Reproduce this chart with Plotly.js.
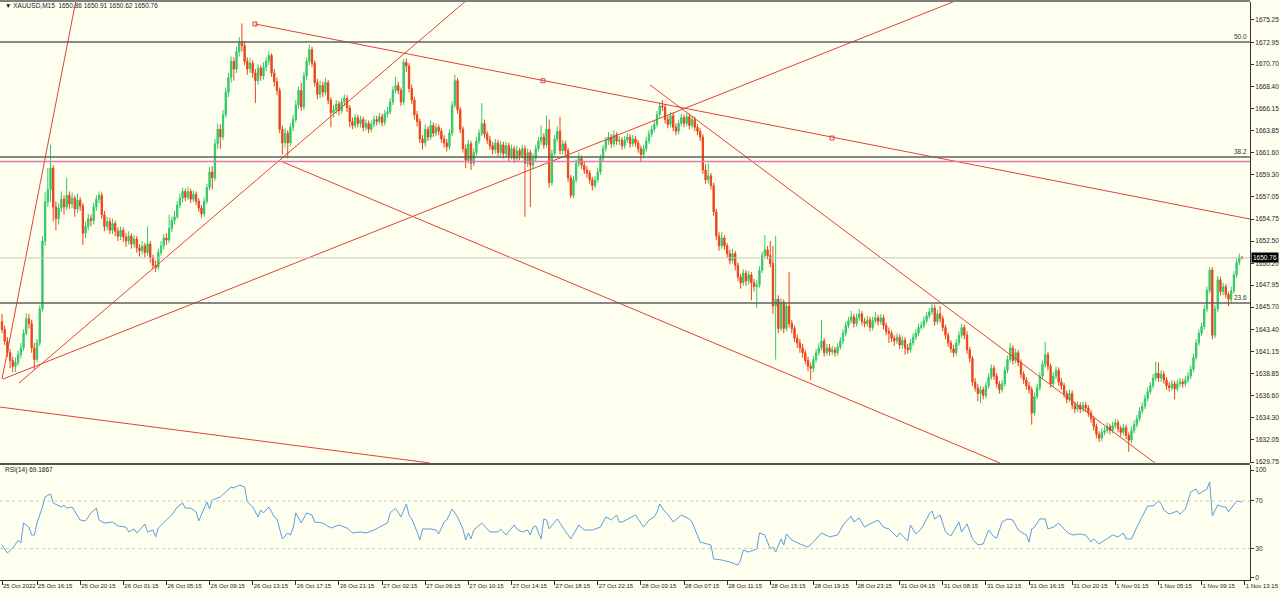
<!DOCTYPE html>
<html><head><meta charset="utf-8">
<script src="https://cdn.plot.ly/plotly-3.0.1.min.js"></script>
<style>html,body{margin:0;padding:0;background:#fffff0;}#chart{width:1280px;height:599px;}</style>
</head><body><div id="chart"></div>
<script>
// ---- XAUUSD M15 candles (bar index 0..460) ----
const opens = [
1644.2,1643.4,1642.2,1641.0,1640.2,1639.6,1640.0,1640.8,1641.5,1643.0,
1644.5,1644.0,1641.5,1640.3,1642.0,1645.5,1652.5,1656.5,1657.8,1660.0,
1656.0,1654.8,1655.9,1656.8,1656.0,1657.2,1656.3,1656.9,1655.8,1656.7,
1656.1,1653.3,1654.0,1654.8,1654.6,1656.0,1656.8,1657.2,1655.2,1654.0,
1654.5,1653.6,1654.3,1653.5,1653.0,1653.6,1652.9,1652.5,1653.0,1652.2,
1652.7,1651.8,1651.5,1652.0,1651.3,1652.2,1650.8,1650.0,1649.8,1651.3,
1652.0,1652.8,1652.6,1653.8,1654.6,1655.0,1656.2,1656.9,1657.6,1657.0,
1657.6,1656.8,1657.3,1656.6,1655.9,1655.3,1656.6,1658.0,1659.6,1659.0,
1662.5,1664.0,1663.2,1665.5,1667.8,1669.3,1671.0,1670.2,1672.0,1673.0,
1672.6,1671.0,1670.2,1670.8,1669.8,1669.0,1670.3,1669.5,1670.4,1671.0,
1671.6,1669.8,1668.9,1668.0,1664.0,1662.6,1663.6,1662.6,1664.2,1665.0,
1666.5,1668.0,1666.3,1669.5,1671.0,1672.2,1670.8,1668.8,1667.6,1668.5,
1667.8,1668.8,1667.0,1665.7,1666.0,1666.6,1665.9,1666.8,1667.2,1666.2,
1664.8,1664.4,1665.2,1664.6,1665.0,1664.2,1664.6,1664.0,1664.5,1665.0,
1664.8,1665.3,1664.7,1665.6,1665.8,1666.8,1668.0,1668.5,1668.0,1666.8,
1670.9,1670.5,1668.2,1667.0,1665.5,1664.8,1663.0,1662.6,1664.0,1663.2,
1664.4,1663.6,1664.2,1663.8,1663.0,1662.6,1662.2,1663.6,1666.5,1669.0,
1666.0,1664.0,1662.0,1660.8,1662.5,1660.5,1661.6,1662.8,1663.6,1664.6,
1663.5,1662.9,1662.3,1661.9,1662.6,1661.6,1662.4,1661.5,1662.3,1661.2,
1662.0,1661.0,1661.8,1661.3,1662.0,1660.5,1661.6,1660.3,1661.0,1662.0,
1662.8,1663.2,1662.4,1664.0,1658.5,1661.5,1663.0,1663.8,1661.8,1662.5,
1661.8,1659.0,1657.2,1658.8,1660.5,1661.0,1660.3,1659.8,1659.5,1658.8,
1658.2,1658.8,1659.6,1661.0,1662.0,1662.8,1663.2,1662.5,1663.4,1662.8,
1662.9,1662.3,1662.9,1663.2,1662.5,1663.0,1662.6,1662.0,1661.4,1662.0,
1662.8,1663.5,1664.0,1664.5,1665.5,1666.4,1666.3,1665.0,1664.5,1665.4,
1664.2,1663.8,1664.6,1665.2,1664.6,1665.3,1664.4,1665.0,1664.2,1663.8,
1663.2,1659.8,1658.8,1659.2,1658.2,1655.5,1653.0,1652.0,1652.8,1652.0,
1651.2,1650.5,1651.2,1650.0,1648.8,1648.2,1649.2,1648.4,1649.0,1648.2,
1647.8,1648.0,1649.5,1651.0,1651.6,1651.0,1650.2,1645.8,1646.5,1643.5,
1646.2,1643.5,1645.8,1644.0,1643.5,1642.5,1642.0,1641.5,1641.0,1640.2,
1639.6,1639.4,1640.3,1641.0,1641.5,1642.2,1641.0,1641.5,1641.1,1641.3,
1641.0,1641.6,1642.2,1643.0,1643.8,1644.3,1644.7,1644.0,1644.6,1645.0,
1644.2,1644.0,1644.4,1643.6,1644.3,1644.6,1644.2,1644.6,1643.8,1643.2,
1643.0,1642.5,1642.2,1642.6,1641.8,1642.3,1641.5,1641.3,1642.0,1642.6,
1643.0,1643.6,1643.8,1644.3,1644.8,1645.2,1645.6,1644.2,1645.0,1644.5,
1643.6,1642.8,1642.0,1641.4,1641.0,1642.0,1642.8,1643.6,1642.8,1641.3,
1640.4,1638.0,1637.4,1636.8,1637.2,1636.6,1637.6,1638.5,1639.4,1638.6,
1637.8,1637.2,1637.8,1639.2,1640.3,1641.5,1640.2,1641.0,1640.0,1638.8,
1638.2,1637.6,1637.2,1634.8,1636.5,1637.4,1638.6,1639.8,1640.8,1639.6,
1637.8,1638.6,1639.2,1638.0,1637.6,1636.8,1636.2,1636.8,1635.6,1635.2,
1635.6,1635.2,1635.6,1635.3,1634.8,1634.2,1633.4,1632.6,1632.2,1632.8,
1633.0,1633.4,1633.0,1633.5,1633.8,1633.2,1632.8,1633.3,1632.5,1632.0,
1633.0,1633.6,1634.2,1635.0,1635.5,1636.3,1637.0,1637.6,1638.4,1638.9,
1638.4,1638.8,1638.2,1637.6,1637.4,1637.8,1637.3,1637.8,1638.0,1637.8,
1638.2,1638.6,1639.3,1640.5,1642.0,1643.0,1643.7,1645.5,1647.4,1649.5,
1642.8,1645.5,1648.5,1647.3,1647.8,1647.0,1646.5,1647.4,1649.0,1650.3,
1650.86];
const highs = [
1645.0,1643.8,1642.6,1641.4,1640.6,1640.5,1641.2,1642.0,1643.4,1645.1,
1645.0,1644.4,1642.0,1642.4,1645.9,1653.0,1657.5,1660.0,1662.4,1660.3,
1656.6,1656.4,1657.6,1657.2,1659.0,1657.6,1657.5,1657.2,1657.4,1657.0,
1656.4,1654.5,1655.3,1655.2,1656.4,1657.2,1657.6,1657.5,1655.6,1655.0,
1654.9,1654.8,1654.6,1653.9,1654.0,1653.9,1653.3,1653.5,1653.3,1653.1,
1653.0,1652.2,1652.5,1652.3,1654.0,1652.5,1651.1,1650.5,1651.7,1652.5,
1653.2,1653.3,1655.2,1655.0,1655.6,1656.6,1657.4,1658.0,1657.9,1658.1,
1657.9,1657.7,1657.6,1656.9,1656.2,1657.0,1658.4,1660.1,1660.2,1663.0,
1664.6,1664.5,1666.0,1668.3,1669.8,1671.5,1671.4,1672.5,1673.5,1674.9,
1673.1,1671.4,1671.3,1671.1,1670.2,1670.7,1670.6,1670.9,1671.4,1672.0,
1671.8,1670.2,1669.3,1668.3,1664.4,1664.1,1663.9,1664.6,1665.5,1667.0,
1668.4,1668.8,1669.9,1671.4,1672.7,1672.5,1671.1,1669.2,1669.0,1668.9,
1669.3,1669.1,1667.3,1666.5,1667.0,1666.9,1667.2,1667.6,1667.5,1666.5,
1665.2,1665.6,1665.5,1665.4,1665.3,1665.0,1664.9,1664.9,1665.4,1665.4,
1665.7,1665.6,1666.0,1666.3,1667.2,1668.4,1669.4,1668.9,1668.3,1671.2,
1671.3,1670.8,1668.6,1667.3,1665.9,1665.1,1663.4,1664.5,1664.3,1664.9,
1664.7,1664.6,1664.5,1664.1,1663.4,1663.0,1664.0,1666.9,1669.6,1669.3,
1666.3,1664.3,1662.4,1662.9,1662.8,1662.0,1663.2,1664.0,1666.7,1665.0,
1663.8,1663.3,1662.7,1663.0,1662.9,1662.8,1662.7,1662.7,1662.6,1662.4,
1662.3,1662.3,1662.1,1662.4,1662.3,1662.0,1661.9,1661.5,1662.4,1663.2,
1664.4,1663.6,1665.4,1665.0,1661.9,1663.4,1664.3,1665.3,1662.9,1662.8,
1662.1,1659.3,1659.2,1660.9,1661.6,1661.3,1660.7,1660.2,1659.8,1659.1,
1659.2,1660.0,1661.4,1662.4,1663.2,1663.7,1663.5,1663.9,1663.7,1663.3,
1663.2,1663.3,1663.6,1663.5,1663.4,1663.3,1662.9,1662.3,1662.4,1663.2,
1663.9,1664.4,1664.9,1665.9,1666.8,1667.0,1666.6,1665.4,1665.8,1665.7,
1664.6,1665.0,1665.6,1665.5,1665.7,1665.6,1665.4,1665.3,1664.5,1664.1,
1663.5,1660.4,1660.5,1659.5,1658.5,1655.8,1653.4,1653.4,1653.1,1652.3,
1651.6,1651.7,1651.5,1650.3,1649.1,1649.6,1649.5,1649.4,1649.3,1648.6,
1648.5,1649.9,1651.4,1653.1,1652.0,1652.5,1652.0,1653.0,1646.9,1646.6,
1646.5,1646.2,1649.3,1644.4,1643.8,1642.9,1642.4,1641.9,1641.3,1640.6,
1640.0,1640.7,1641.4,1642.0,1644.4,1642.5,1641.9,1641.9,1641.7,1641.6,
1642.0,1642.6,1643.4,1644.2,1644.7,1645.3,1645.0,1645.0,1645.5,1645.3,
1644.6,1644.8,1644.7,1644.7,1645.2,1644.9,1645.0,1644.9,1644.1,1643.6,
1643.3,1642.8,1643.0,1642.9,1642.7,1642.6,1641.9,1642.4,1643.0,1643.4,
1644.0,1644.2,1644.7,1645.2,1645.6,1646.0,1645.9,1645.4,1645.8,1644.8,
1643.9,1643.1,1642.3,1641.8,1642.4,1643.2,1644.0,1643.9,1643.2,1641.6,
1640.7,1638.4,1637.8,1637.6,1637.5,1638.0,1638.9,1639.8,1639.7,1638.9,
1638.1,1638.2,1639.6,1640.7,1642.0,1641.8,1641.4,1641.3,1640.3,1639.1,
1638.5,1638.0,1637.5,1636.9,1637.8,1639.0,1640.2,1642.1,1641.1,1639.9,
1639.0,1639.6,1639.5,1638.4,1637.9,1637.1,1637.2,1637.1,1636.0,1636.0,
1635.9,1636.0,1635.9,1635.6,1635.1,1634.5,1633.7,1632.9,1633.2,1633.4,
1633.8,1633.7,1633.9,1634.2,1634.1,1633.5,1633.7,1633.6,1632.8,1633.4,
1634.0,1634.6,1635.4,1635.9,1636.7,1637.4,1638.0,1638.8,1640.1,1640.0,
1639.2,1639.1,1638.5,1638.0,1638.2,1638.1,1638.2,1638.4,1638.3,1638.6,
1639.0,1639.7,1640.9,1642.4,1643.4,1644.1,1645.9,1647.8,1649.8,1649.8,
1645.9,1648.9,1648.8,1648.2,1648.1,1647.3,1647.8,1649.4,1650.7,1651.2,
1650.91];
const lows = [
1643.0,1641.8,1640.6,1639.4,1639.0,1639.0,1639.7,1640.4,1641.2,1642.8,
1643.5,1641.0,1639.3,1640.0,1641.7,1645.2,1652.0,1656.0,1656.5,1654.5,
1653.6,1654.2,1655.5,1655.2,1655.7,1655.8,1655.9,1655.0,1655.4,1655.6,
1652.1,1652.8,1653.6,1654.0,1654.2,1655.6,1656.4,1654.8,1653.5,1653.6,
1653.2,1653.2,1653.0,1652.5,1652.6,1652.4,1651.9,1652.1,1651.7,1651.8,
1651.3,1650.9,1651.1,1650.8,1651.0,1650.3,1649.6,1649.3,1649.5,1651.0,
1651.6,1652.1,1652.3,1653.4,1654.2,1654.8,1655.9,1656.5,1656.6,1656.7,
1656.4,1656.5,1656.2,1655.5,1654.9,1655.0,1656.3,1657.7,1657.8,1658.7,
1662.0,1662.0,1662.9,1665.2,1667.3,1668.8,1669.0,1669.8,1671.5,1672.0,
1670.6,1669.6,1669.8,1669.3,1666.7,1668.6,1669.0,1669.1,1670.0,1670.6,
1669.4,1668.4,1667.5,1663.6,1661.4,1662.1,1661.0,1662.3,1663.8,1664.7,
1666.1,1665.9,1666.0,1669.1,1670.6,1670.4,1668.4,1667.1,1667.2,1667.3,
1667.5,1666.6,1664.2,1665.2,1665.6,1665.4,1665.6,1666.4,1665.8,1664.2,
1664.0,1664.1,1664.2,1664.2,1663.8,1663.9,1663.6,1663.7,1664.2,1664.4,
1664.5,1664.3,1664.4,1665.2,1665.5,1666.5,1667.7,1667.6,1666.4,1666.5,
1669.9,1667.8,1666.6,1665.0,1664.3,1662.6,1661.9,1662.2,1662.8,1662.9,
1663.2,1663.3,1663.4,1662.6,1662.1,1661.7,1661.9,1663.3,1666.2,1665.6,
1663.6,1661.6,1660.0,1660.5,1659.8,1660.2,1661.3,1662.5,1663.3,1663.1,
1662.5,1661.9,1661.4,1661.5,1661.2,1661.2,1661.0,1661.1,1660.7,1660.9,
1660.5,1660.6,1660.8,1661.0,1655.0,1660.1,1656.0,1659.9,1660.7,1661.7,
1662.4,1662.0,1662.1,1658.0,1658.2,1661.2,1662.7,1661.4,1661.4,1661.3,
1658.6,1656.9,1656.9,1658.5,1660.1,1659.9,1659.4,1659.0,1658.4,1657.7,
1657.9,1658.5,1659.3,1660.7,1661.7,1662.4,1662.1,1662.2,1662.4,1662.4,
1661.9,1662.0,1662.6,1662.1,1662.2,1662.2,1661.6,1660.6,1661.0,1661.7,
1662.5,1663.2,1663.7,1664.2,1665.2,1665.9,1664.6,1664.1,1664.2,1663.8,
1663.4,1663.5,1664.3,1664.2,1664.3,1664.0,1664.1,1663.8,1663.4,1662.8,
1659.4,1658.4,1658.4,1657.8,1655.1,1652.6,1651.5,1651.7,1651.6,1650.8,
1650.1,1650.2,1649.5,1648.4,1647.6,1647.9,1647.9,1648.0,1646.4,1647.3,
1645.6,1647.7,1649.2,1650.7,1650.6,1649.8,1645.0,1640.3,1643.0,1643.2,
1643.0,1643.2,1643.6,1643.0,1642.1,1641.5,1641.0,1640.5,1639.8,1639.1,
1638.2,1639.0,1640.0,1640.7,1641.2,1640.6,1640.7,1640.7,1640.8,1640.6,
1640.7,1641.3,1641.9,1642.7,1643.5,1644.0,1643.6,1643.7,1644.3,1643.8,
1643.6,1643.7,1643.2,1643.3,1644.0,1643.8,1643.9,1643.4,1642.8,1642.0,
1642.1,1641.7,1641.9,1641.4,1641.4,1640.8,1640.9,1641.0,1641.7,1642.3,
1642.7,1643.3,1643.5,1644.0,1644.5,1644.9,1643.8,1643.9,1644.1,1643.2,
1642.4,1641.6,1641.0,1640.6,1640.7,1641.7,1642.5,1642.4,1640.9,1640.0,
1637.6,1637.0,1636.0,1635.8,1636.2,1636.3,1637.3,1638.2,1638.2,1637.4,
1636.8,1636.9,1637.5,1638.9,1640.0,1639.8,1639.9,1639.6,1638.4,1637.8,
1637.2,1636.8,1633.6,1634.5,1636.2,1637.1,1638.3,1639.5,1639.2,1637.4,
1637.5,1638.3,1637.6,1637.2,1636.4,1635.8,1635.9,1635.2,1634.8,1634.9,
1634.8,1634.9,1634.9,1634.4,1633.8,1633.0,1632.2,1631.8,1631.9,1632.5,
1632.7,1632.6,1632.7,1633.2,1632.8,1632.4,1632.5,1632.1,1630.8,1631.7,
1632.7,1633.3,1633.9,1634.7,1635.2,1636.0,1636.7,1637.3,1638.1,1638.0,
1638.0,1637.8,1637.2,1637.0,1637.1,1636.2,1637.0,1637.5,1637.4,1637.5,
1637.9,1638.3,1639.0,1640.2,1641.7,1642.7,1643.4,1645.2,1647.1,1642.4,
1642.5,1645.2,1646.9,1646.9,1646.6,1645.8,1646.2,1647.1,1648.7,1650.0,
1650.62];
const closes = [
1643.4,1642.2,1641.0,1640.2,1639.6,1640.0,1640.8,1641.5,1643.0,1644.5,
1644.0,1641.5,1640.3,1642.0,1645.5,1652.5,1656.5,1657.8,1660.0,1656.0,
1654.8,1655.9,1656.8,1656.0,1657.2,1656.3,1656.9,1655.8,1656.7,1656.1,
1653.3,1654.0,1654.8,1654.6,1656.0,1656.8,1657.2,1655.2,1654.0,1654.5,
1653.6,1654.3,1653.5,1653.0,1653.6,1652.9,1652.5,1653.0,1652.2,1652.7,
1651.8,1651.5,1652.0,1651.3,1652.2,1650.8,1650.0,1649.8,1651.3,1652.0,
1652.8,1652.6,1653.8,1654.6,1655.0,1656.2,1656.9,1657.6,1657.0,1657.6,
1656.8,1657.3,1656.6,1655.9,1655.3,1656.6,1658.0,1659.6,1659.0,1662.5,
1664.0,1663.2,1665.5,1667.8,1669.3,1671.0,1670.2,1672.0,1673.0,1672.6,
1671.0,1670.2,1670.8,1669.8,1669.0,1670.3,1669.5,1670.4,1671.0,1671.6,
1669.8,1668.9,1668.0,1664.0,1662.6,1663.6,1662.6,1664.2,1665.0,1666.5,
1668.0,1666.3,1669.5,1671.0,1672.2,1670.8,1668.8,1667.6,1668.5,1667.8,
1668.8,1667.0,1665.7,1666.0,1666.6,1665.9,1666.8,1667.2,1666.2,1664.8,
1664.4,1665.2,1664.6,1665.0,1664.2,1664.6,1664.0,1664.5,1665.0,1664.8,
1665.3,1664.7,1665.6,1665.8,1666.8,1668.0,1668.5,1668.0,1666.8,1670.9,
1670.5,1668.2,1667.0,1665.5,1664.8,1663.0,1662.6,1664.0,1663.2,1664.4,
1663.6,1664.2,1663.8,1663.0,1662.6,1662.2,1663.6,1666.5,1669.0,1666.0,
1664.0,1662.0,1660.8,1662.5,1660.5,1661.6,1662.8,1663.6,1664.6,1663.5,
1662.9,1662.3,1661.9,1662.6,1661.6,1662.4,1661.5,1662.3,1661.2,1662.0,
1661.0,1661.8,1661.3,1662.0,1660.5,1661.6,1660.3,1661.0,1662.0,1662.8,
1663.2,1662.4,1664.0,1658.5,1661.5,1663.0,1663.8,1661.8,1662.5,1661.8,
1659.0,1657.2,1658.8,1660.5,1661.0,1660.3,1659.8,1659.5,1658.8,1658.2,
1658.8,1659.6,1661.0,1662.0,1662.8,1663.2,1662.5,1663.4,1662.8,1662.9,
1662.3,1662.9,1663.2,1662.5,1663.0,1662.6,1662.0,1661.4,1662.0,1662.8,
1663.5,1664.0,1664.5,1665.5,1666.4,1666.3,1665.0,1664.5,1665.4,1664.2,
1663.8,1664.6,1665.2,1664.6,1665.3,1664.4,1665.0,1664.2,1663.8,1663.2,
1659.8,1658.8,1659.2,1658.2,1655.5,1653.0,1652.0,1652.8,1652.0,1651.2,
1650.5,1651.2,1650.0,1648.8,1648.2,1649.2,1648.4,1649.0,1648.2,1647.8,
1648.0,1649.5,1651.0,1651.6,1651.0,1650.2,1645.8,1646.5,1643.5,1646.2,
1643.5,1645.8,1644.0,1643.5,1642.5,1642.0,1641.5,1641.0,1640.2,1639.6,
1639.4,1640.3,1641.0,1641.5,1642.2,1641.0,1641.5,1641.1,1641.3,1641.0,
1641.6,1642.2,1643.0,1643.8,1644.3,1644.7,1644.0,1644.6,1645.0,1644.2,
1644.0,1644.4,1643.6,1644.3,1644.6,1644.2,1644.6,1643.8,1643.2,1643.0,
1642.5,1642.2,1642.6,1641.8,1642.3,1641.5,1641.3,1642.0,1642.6,1643.0,
1643.6,1643.8,1644.3,1644.8,1645.2,1645.6,1644.2,1645.0,1644.5,1643.6,
1642.8,1642.0,1641.4,1641.0,1642.0,1642.8,1643.6,1642.8,1641.3,1640.4,
1638.0,1637.4,1636.8,1637.2,1636.6,1637.6,1638.5,1639.4,1638.6,1637.8,
1637.2,1637.8,1639.2,1640.3,1641.5,1640.2,1641.0,1640.0,1638.8,1638.2,
1637.6,1637.2,1634.8,1636.5,1637.4,1638.6,1639.8,1640.8,1639.6,1637.8,
1638.6,1639.2,1638.0,1637.6,1636.8,1636.2,1636.8,1635.6,1635.2,1635.6,
1635.2,1635.6,1635.3,1634.8,1634.2,1633.4,1632.6,1632.2,1632.8,1633.0,
1633.4,1633.0,1633.5,1633.8,1633.2,1632.8,1633.3,1632.5,1632.0,1633.0,
1633.6,1634.2,1635.0,1635.5,1636.3,1637.0,1637.6,1638.4,1638.9,1638.4,
1638.8,1638.2,1637.6,1637.4,1637.8,1637.3,1637.8,1638.0,1637.8,1638.2,
1638.6,1639.3,1640.5,1642.0,1643.0,1643.7,1645.5,1647.4,1649.5,1642.8,
1645.5,1648.5,1647.3,1647.8,1647.0,1646.5,1647.4,1649.0,1650.3,1650.86,
1650.76];

// ---- time axis labels (bar index of each label) ----
const timeTickBars = [0,13,29,45,61,77,93,109,125,141,157,173,189,205,221,237,253,269,285,301,317,333,349,365,381,397,413,429,445,461];
const timeTickLabels = ["25 Oct 2022","25 Oct 16:15","25 Oct 20:15","26 Oct 01:15","26 Oct 05:15","26 Oct 09:15","26 Oct 13:15","26 Oct 17:15","26 Oct 21:15","27 Oct 02:15","27 Oct 06:15","27 Oct 10:15","27 Oct 14:15","27 Oct 18:15","27 Oct 22:15","28 Oct 03:15","28 Oct 07:15","28 Oct 11:15","28 Oct 15:15","28 Oct 19:15","28 Oct 23:15","31 Oct 04:15","31 Oct 08:15","31 Oct 12:15","31 Oct 16:15","31 Oct 20:15","1 Nov 01:15","1 Nov 05:15","1 Nov 09:15","1 Nov 13:15"];

// ---- price axis ticks ----
const priceTicks = [1675.25,1672.95,1670.70,1668.40,1666.15,1663.85,1661.60,1659.30,1657.05,1654.75,1652.50,1650.20,1647.95,1645.70,1643.40,1641.15,1638.85,1636.60,1634.30,1632.05,1629.75];

// ---- RSI(14) (bar index, value) ----
const rsiBars = [0,2,4,6,7,8,10,11,12,13,15,16,18,19,22,23,24,26,29,31,33,35,36,38,41,43,46,47,49,50,53,54,56,57,58,60,61,63,65,67,68,70,72,73,76,77,78,81,85,86,88,90,91,93,95,96,97,99,101,102,103,104,106,107,108,109,111,113,115,116,119,122,125,128,130,133,135,138,140,143,144,146,148,150,151,152,154,155,156,159,161,162,164,165,167,169,171,172,173,174,175,178,181,184,185,187,190,191,193,195,196,197,198,200,201,202,203,206,208,211,214,216,219,222,224,226,228,229,230,235,238,240,242,243,244,246,247,249,252,255,256,259,263,264,267,270,273,274,275,277,280,281,283,285,286,287,289,290,291,293,296,299,301,304,307,310,312,313,315,316,318,320,322,325,327,329,332,333,336,337,339,341,344,345,346,348,350,352,355,356,358,360,362,364,366,368,369,371,373,375,376,377,378,380,381,382,383,385,387,388,390,392,395,397,400,402,404,405,407,410,412,414,416,417,419,421,423,425,427,429,430,431,433,436,437,439,441,443,444,447,448,449,450,451,453,454,455,457,458,460];
const rsiValues = [33,26.3,30.5,37,34.7,51.5,48,41.4,41.4,51.5,65,73.4,75.9,68.3,65,66.6,64,65,54,53.2,60,64,54,51.5,52.3,49,48,44,46.5,43,50.7,44,45.6,39.8,47.3,52.3,54,58.2,65,68.3,64,64,60.8,53.2,69.2,63.3,70.8,73.4,81.8,80.9,83.4,81.8,69.2,65,56.6,62.4,60,65,56.6,54.9,45.6,38.1,43.1,41.4,47.3,60,51.5,60,58.2,52.3,51.5,47.3,49.8,47.3,43.1,44,43.1,45.6,48,51.5,60,64,56.6,67.5,58.2,54.9,44,37.2,46.5,46.5,45.6,42.3,52.3,54,63.3,56.6,46.5,37.2,43.1,38.1,45.6,51.5,44,44,46.5,41.4,49.8,46.5,44,45.6,41.4,48,49,38.1,54.9,54,46.5,54.9,48,38.1,49.8,45.6,45.6,48,56.6,54,58.2,52.3,52.3,58.2,48,54,56.6,60.8,67.5,60.8,59,52.3,58.2,54.9,52.3,35.5,33,21.3,20.4,18.7,16.2,20.4,28.8,27.1,29.7,43.1,41.4,29.7,31.3,27.1,38.1,33,42.3,37.2,33.9,31.3,35.5,43.1,39.8,41.4,49.8,52.3,57.4,52.3,55.7,48,50.7,54,48,46.5,39.8,43.1,36.4,49.8,42.3,46.5,59,61.6,54.9,58.2,44,40.6,52.3,44,50.7,38.1,33,33.9,45.6,39.8,38.9,52.3,54.9,54,49.8,45.6,44,41.4,35.5,46.5,48,54.9,54.9,46.5,48,51.5,44,41.4,42.3,41.4,35.5,38.1,33.9,38.1,41.4,39.8,43.1,38.1,38.1,48,56.6,65.8,65.8,70,67.5,62.4,59,61.6,59,63.3,77.6,80.1,75.9,80,86,57.4,62,66.6,65,65,60.8,66.6,70,69.19];
const rsiLevels = [70, 30];

// ---- horizontal objects ----
const fibLevels = [1672.98, 1661.15, 1646.12];
const fibLabels = ["50.0", "38.2", "23.6"];
const pinkLevel = 1660.69;
const bidPrice = 1650.76;

// ---- trend lines drawn on the chart: [bar0, price0, bar1, price1] ----
const trendLines = [
  [0.0, 1638.29, 27.45, 1677.31],
  [6.31, 1637.88, 172.5, 1677.31],
  [0.37, 1638.29, 354.6, 1677.31],
  [93.85, 1674.84, 462.97, 1654.76],
  [104.2, 1660.63, 370.2, 1629.65],
  [240.4, 1668.56, 427.7, 1629.65],
  [-0.74, 1635.41, 158.8, 1629.65]
];
const anchorBars = [93.85, 200.7, 307.9];
const anchorPrices = [1674.84, 1669.0, 1663.1];

const BG = '#fffff0';
const FONT = 'Liberation Sans, Arial, sans-serif';
const RED = '#e2413a';
const bars = closes.map((_, i) => i);

const traces = [
  {
    type: 'candlestick', x: bars, open: opens, high: highs, low: lows, close: closes,
    xaxis: 'x', yaxis: 'y', hoverinfo: 'skip', whiskerwidth: 0,
    increasing: {line: {color: '#34c86a', width: 1}, fillcolor: '#34c86a'},
    decreasing: {line: {color: '#ea4418', width: 1}, fillcolor: '#ea4418'}
  },
  {
    type: 'scatter', mode: 'markers', x: anchorBars, y: anchorPrices, xaxis: 'x', yaxis: 'y',
    marker: {symbol: 'square-open', size: 4, color: RED, line: {width: 1, color: RED}}, hoverinfo: 'skip'
  },
  {
    type: 'scatter', mode: 'lines', x: rsiBars, y: rsiValues, xaxis: 'x', yaxis: 'y2',
    line: {color: '#5a9ee0', width: 1}, hoverinfo: 'skip'
  }
];

const shapes = [];
trendLines.forEach(t => shapes.push({type: 'line', xref: 'x', yref: 'y', x0: t[0], y0: t[1], x1: t[2], y1: t[3], line: {color: RED, width: 1}}));
shapes.push({type: 'line', xref: 'paper', yref: 'y', x0: 0, x1: 1, y0: bidPrice, y1: bidPrice, line: {color: '#c4c4c4', width: 1}});
fibLevels.forEach(v => shapes.push({type: 'line', xref: 'paper', yref: 'y', x0: 0, x1: 1, y0: v, y1: v, line: {color: '#606060', width: 1.5}}));
shapes.push({type: 'line', xref: 'paper', yref: 'y', x0: 0, x1: 1, y0: pinkLevel, y1: pinkLevel, line: {color: '#e07aa8', width: 1.5}});
rsiLevels.forEach(v => shapes.push({type: 'line', xref: 'paper', yref: 'y2', x0: 0, x1: 1, y0: v, y1: v, line: {color: '#c8c8c0', width: 1, dash: 'dot'}}));
// panel borders
shapes.push({type: 'line', xref: 'paper', yref: 'paper', x0: 0, x1: 1, y0: 0.9983, y1: 0.9983, line: {color: '#555', width: 1.5}});
shapes.push({type: 'line', xref: 'paper', yref: 'paper', x0: 0, x1: 1, y0: 0.2, y1: 0.2, line: {color: '#555', width: 2}});

const annotations = [
  {xref: 'paper', yref: 'paper', x: 0.002, y: 0.9897, xanchor: 'left', yanchor: 'middle', showarrow: false,
   text: '\u25BC XAUUSD,M15  1650.86 1650.91 1650.62 1650.76', font: {family: FONT, size: 6.5, color: '#222'}},
  {xref: 'paper', yref: 'paper', x: 0.002, y: 0.1897, xanchor: 'left', yanchor: 'middle', showarrow: false,
   text: 'RSI(14) 69.1867', font: {family: FONT, size: 6.5, color: '#222'}},
  {xref: 'paper', yref: 'y', x: 1.0008, y: bidPrice, xanchor: 'left', yanchor: 'middle', showarrow: false,
   text: bidPrice.toFixed(2), bgcolor: '#000', borderpad: 1, font: {family: FONT, size: 6.5, color: '#fff'}}
];
fibLevels.forEach((v, k) => annotations.push({xref: 'paper', yref: 'y', x: 0.999, y: v, xanchor: 'right', yanchor: 'bottom', showarrow: false,
  text: fibLabels[k], font: {family: FONT, size: 6.5, color: '#333'}}));

const layout = {
  width: 1280, height: 599, margin: {l: 0, r: 30, t: 0, b: 19},
  paper_bgcolor: BG, plot_bgcolor: BG, showlegend: false,
  font: {family: FONT, size: 6.5, color: '#222'},
  xaxis: {range: [-0.742, 462.97], anchor: 'y2', tickmode: 'array', tickvals: timeTickBars, ticktext: timeTickLabels,
    tickangle: 0, ticklabelposition: 'outside right', ticklabeloverflow: 'allow', ticks: 'outside', ticklen: 4, tickcolor: '#333',
    showgrid: false, zeroline: false, showline: true, linecolor: '#333', linewidth: 1,
    rangeslider: {visible: false}, fixedrange: true, tickfont: {family: FONT, size: 6, color: '#222'}},
  yaxis: {domain: [0.2017, 0.99655], range: [1629.65, 1677.10], side: 'right', anchor: 'x', tickmode: 'array',
    tickvals: priceTicks, ticktext: priceTicks.map(v => v.toFixed(2)), ticks: 'outside', ticklen: 3, tickcolor: '#333',
    showgrid: false, zeroline: false, showline: true, linecolor: '#333', fixedrange: true,
    tickfont: {family: FONT, size: 6.5, color: '#222'}},
  yaxis2: {domain: [0, 0.19828], range: [3.6, 100.25], side: 'right', anchor: 'x', tickmode: 'array',
    tickvals: [96, 70, 30, 5.3], ticktext: ['100', '70', '30', '0'], ticks: 'outside', ticklen: 3, tickcolor: '#333',
    showgrid: false, zeroline: false, showline: true, linecolor: '#333', fixedrange: true,
    tickfont: {family: FONT, size: 6.5, color: '#222'}},
  shapes: shapes, annotations: annotations
};

Plotly.newPlot('chart', traces, layout, {staticPlot: true, displayModeBar: false});
</script>
</body></html>
